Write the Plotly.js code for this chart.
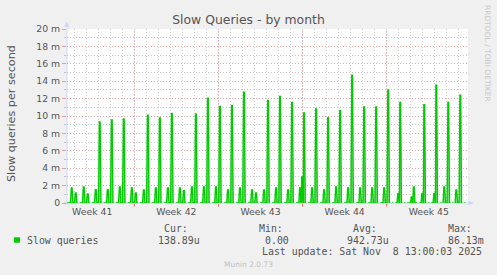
<!DOCTYPE html>
<html>
<head>
<meta charset="utf-8">
<script src="https://cdn.plot.ly/plotly-3.0.1.min.js"></script>
<style>
html,body{margin:0;padding:0;background:#f0f0f0;}
#chart{width:497px;height:275px;}
</style>
</head>
<body>
<div id="chart"></div>
<script>
// ---- data (values in milli-queries per second) ----
const spikeTimes = [
 '2025-10-06 19:00','2025-10-07 03:00','2025-10-07 19:00','2025-10-08 03:00',
 '2025-10-08 19:00','2025-10-09 03:00','2025-10-09 19:00','2025-10-10 03:00',
 '2025-10-10 19:00','2025-10-11 03:00','2025-10-11 19:00','2025-10-12 03:00',
 '2025-10-12 19:00','2025-10-13 03:00','2025-10-13 19:00','2025-10-14 03:00',
 '2025-10-14 19:00','2025-10-15 03:00','2025-10-15 19:00','2025-10-16 03:00',
 '2025-10-16 19:00','2025-10-17 03:00','2025-10-17 19:00','2025-10-18 03:00',
 '2025-10-18 19:00','2025-10-19 03:00','2025-10-19 19:00','2025-10-20 03:00',
 '2025-10-20 19:00','2025-10-21 03:00','2025-10-21 19:00','2025-10-22 03:00',
 '2025-10-22 19:00','2025-10-23 03:00','2025-10-23 19:00','2025-10-24 03:00',
 '2025-10-24 19:00','2025-10-25 03:00','2025-10-25 19:00','2025-10-25 23:00',
 '2025-10-26 03:00','2025-10-26 19:00','2025-10-27 03:00','2025-10-27 19:00',
 '2025-10-28 03:00','2025-10-28 19:00','2025-10-29 03:00','2025-10-29 19:00',
 '2025-10-30 03:00','2025-10-30 19:00','2025-10-31 03:00','2025-10-31 19:00',
 '2025-11-01 03:00','2025-11-01 19:00','2025-11-02 03:00','2025-11-02 23:00',
 '2025-11-03 03:00','2025-11-04 02:00','2025-11-04 06:00','2025-11-04 23:00',
 '2025-11-05 03:00','2025-11-05 23:00','2025-11-06 03:00','2025-11-06 19:00',
 '2025-11-07 03:00','2025-11-07 19:00','2025-11-08 03:00'
];
const spikeValues = [
 1.72, 1.15, 1.84, 1.03,
 1.53, 9.33, 1.53, 9.55,
 1.84, 9.67, 1.72, 1.15,
 1.50, 10.1, 1.72, 9.79,
 1.72, 10.3, 1.72, 1.41,
 1.84, 10.2, 1.84, 12.05,
 1.84, 11.1, 1.50, 11.2,
 1.72, 12.75, 1.50, 1.15,
 1.50, 11.8, 1.72, 12.25,
 1.50, 11.55, 1.72, 2.98,
 10.35, 1.72, 10.8, 1.50,
 9.8, 1.84, 10.6, 1.72,
 14.7, 1.72, 11.05, 1.72,
 11.05, 1.72, 13.0, 1.10,
 11.55, 0.70, 1.84, 1.10,
 11.3, 1.10, 13.55, 1.84,
 11.55, 1.50, 12.4
];
// samples that rrdtool shows as unknown (breaks in the zero line)
const unknownTimes = [
 '2025-10-07 09:00','2025-10-08 09:00','2025-10-09 09:00','2025-10-10 09:00',
 '2025-10-11 09:00','2025-10-12 09:00','2025-10-13 09:00','2025-10-14 09:00',
 '2025-10-15 09:00','2025-10-16 09:00','2025-10-17 09:00','2025-10-18 09:00',
 '2025-10-19 09:00','2025-10-20 09:00','2025-10-21 09:00','2025-10-22 09:00',
 '2025-10-23 09:00','2025-10-24 09:00','2025-10-25 09:00','2025-10-26 09:00',
 '2025-10-27 09:00','2025-10-28 09:00','2025-10-29 09:00','2025-10-30 09:00',
 '2025-10-31 09:00','2025-11-01 09:00','2025-11-02 09:00','2025-11-02 15:00',
 '2025-11-03 09:00','2025-11-03 15:00','2025-11-04 15:00','2025-11-05 09:00',
 '2025-11-05 15:00','2025-11-06 09:00','2025-11-06 15:00','2025-11-07 09:00',
 '2025-11-07 15:00','2025-11-08 09:00'
];
const seriesStart = '2025-10-06 09:37';
const seriesEnd   = '2025-11-08 13:00';
const axisEnd     = '2025-11-08 18:20';

const weekStarts = ['2025-10-12 00:00','2025-10-19 00:00','2025-10-26 00:00','2025-11-02 00:00'];
const weekLabelTimes = ['2025-10-08 12:00','2025-10-15 12:00','2025-10-22 12:00','2025-10-29 12:00','2025-11-05 12:00'];
const weekLabels = ['Week 41','Week 42','Week 43','Week 44','Week 45'];

const yTickVals = [0,2,4,6,8,10,12,14,16,18,20];
const yTickText = ['0','2 m','4 m','6 m','8 m','10 m','12 m','14 m','16 m','18 m','20 m'];

const seriesName = 'Slow queries';
const statLabels = ['Cur:','Min:','Avg:','Max:'];
const statValues = ['138.89u','0.00','942.73u','86.13m'];
const lastUpdate = 'Last update: Sat Nov  8 13:00:03 2025';
const chartTitle = 'Slow Queries - by month';
const yTitle = 'Slow queries per second';

// ---- build the line (rrdtool LINE, 2 h consolidation) ----
const HOUR = 3600e3;
const ms = s => Date.parse(s.replace(' ','T') + ':00Z');
let pts = [{t: ms(seriesStart), v: 0}, {t: ms(seriesEnd), v: 0}];
spikeTimes.forEach((s,i) => {
  const t = ms(s), v = spikeValues[i];
  pts.push({t: t-2.4*HOUR, v: 0},{t: t-0.8*HOUR, v: v},{t: t+0.8*HOUR, v: v},{t: t+2.4*HOUR, v: 0});
});
unknownTimes.forEach(s => {
  const t = ms(s);
  pts.push({t: t-1.8*HOUR, v: 0},{t: t, v: null},{t: t+1.8*HOUR, v: 0});
});
pts.sort((a,b) => a.t - b.t);

const trace = {
  type: 'scatter', mode: 'lines',
  x: pts.map(p => p.t), y: pts.map(p => p.v),
  line: {color: '#00cc00', width: 1.4},
  fill: 'tozeroy', fillcolor: 'rgba(40,215,40,0.55)',
  connectgaps: false, hoverinfo: 'skip', showlegend: false
};

// ---- layout helpers (pixel -> paper) ----
const L = 67, R = 468, T = 29, B = 203;
const px = x => (x - L) / (R - L);
const py = y => (B - y) / (B - T);
const FONT = 'DejaVu Sans, Verdana, sans-serif';
const MONO = 'DejaVu Sans Mono, monospace';
const TXT = '#555555';
const MGRID = 'rgba(222,80,80,0.5)';
const GRID = 'rgba(143,143,143,0.45)';
const AXIS = '#CFD6F8';

const shapes = [];
weekStarts.forEach(s => {
  shapes.push({type:'line', xref:'x', yref:'paper', x0: ms(s), x1: ms(s), y0: 0, y1: 1,
    line:{color: MGRID, width: 1, dash: '1px,2px'}, layer: 'between'});
  shapes.push({type:'line', xref:'x', yref:'paper', x0: ms(s), x1: ms(s), y0: py(204), y1: py(206.5),
    line:{color: 'rgba(222,80,80,0.9)', width: 1}});
});
// axis lines and arrows
shapes.push({type:'line', xref:'paper', yref:'paper', x0: px(67), x1: px(67), y0: py(205), y1: py(24),
  line:{color: AXIS, width: 1}, layer:'between'});
shapes.push({type:'line', xref:'paper', yref:'paper', x0: px(64), x1: px(469), y0: py(203), y1: py(203),
  line:{color: AXIS, width: 1}, layer:'between'});
shapes.push({type:'path', xref:'paper', yref:'paper',
  path: `M ${px(64.2)},${py(27)} L ${px(69.2)},${py(27)} L ${px(66.7)},${py(21.5)} Z`,
  fillcolor: AXIS, line:{width:0}});
shapes.push({type:'path', xref:'paper', yref:'paper',
  path: `M ${px(468.5)},${py(200.5)} L ${px(468.5)},${py(205.5)} L ${px(474)},${py(203)} Z`,
  fillcolor: AXIS, line:{width:0}});
// legend colour box
shapes.push({type:'rect', xref:'paper', yref:'paper', x0: px(14), x1: px(20), y0: py(242.7), y1: py(237.3),
  fillcolor:'#00cc00', line:{width:0}});

const ann = (text, x, y, opts) => Object.assign({text, x: px(x), y: py(y), xref:'paper', yref:'paper',
  showarrow:false, xanchor:'left', yanchor:'middle', borderpad:0,
  font:{family: MONO, size: 9.9, color: TXT}}, opts || {});

const statLabelX = [163.3, 257.7, 352.3, 446.7];
const statValueX = [157.3, 264.0, 345.7, 446.7];
const annotations = [
  ann(yTitle, 11, 114, {xanchor:'center', textangle:-90, font:{family: FONT, size: 11.2, color: TXT}}),
  ann('RRDTOOL / TOBI OETIKER', 488, 53, {xanchor:'center', textangle:90, font:{family: FONT, size: 7.5, color:'#c8c8c8'}}),
  ann(seriesName, 26, 240),
  ann(lastUpdate, 482.5, 251.7, {xanchor:'right'}),
  ann('Munin 2.0.73', 248.3, 264, {xanchor:'center', font:{family: FONT, size: 7.5, color:'#c0c0c0'}})
];
statLabels.forEach((s,i) => annotations.push(ann(s, statLabelX[i], 228.3)));
statValues.forEach((s,i) => annotations.push(ann(s, statValueX[i], 240)));

const layout = {
  width: 497, height: 275,
  margin: {l: L, r: 497 - R, t: T, b: 275 - B, pad: 0},
  paper_bgcolor: '#f0f0f0', plot_bgcolor: '#ffffff',
  showlegend: false,
  title: {text: chartTitle, x: 0.5, xanchor: 'center', y: 1 - 20/275, yanchor: 'middle',
          font: {family: FONT, size: 12.4, color: TXT}},
  xaxis: {
    type: 'date', range: [ms(seriesStart), ms(axisEnd)], fixedrange: true,
    tickmode: 'array', tickvals: weekLabelTimes.map(ms), ticktext: weekLabels,
    ticks: '', showgrid: false, zeroline: false, showline: false, ticklabelstandoff: 2,
    tickfont: {family: FONT, size: 9.3, color: TXT},
    minor: {tickmode: 'linear', tick0: ms('2025-10-12 00:00'), dtick: 86400000,
            showgrid: true, gridcolor: GRID, gridwidth: 1, griddash: '1px,2px', ticks: ''}
  },
  yaxis: {
    range: [0, 20], fixedrange: true,
    tickmode: 'array', tickvals: yTickVals, ticktext: yTickText,
    ticks: 'outside', ticklen: 4, tickcolor: MGRID, tickwidth: 1,
    showgrid: true, gridcolor: MGRID, gridwidth: 1, griddash: '1px,2px',
    zeroline: false, showline: false,
    tickfont: {family: FONT, size: 9.3, color: TXT},
    minor: {tickmode: 'linear', tick0: 1, dtick: 2, showgrid: true, gridcolor: GRID,
            gridwidth: 1, griddash: '1px,2px', ticks: 'outside', ticklen: 2, tickcolor: GRID}
  },
  shapes: shapes,
  annotations: annotations
};

Plotly.newPlot('chart', [trace], layout, {staticPlot: true, displayModeBar: false});
</script>
</body>
</html>
